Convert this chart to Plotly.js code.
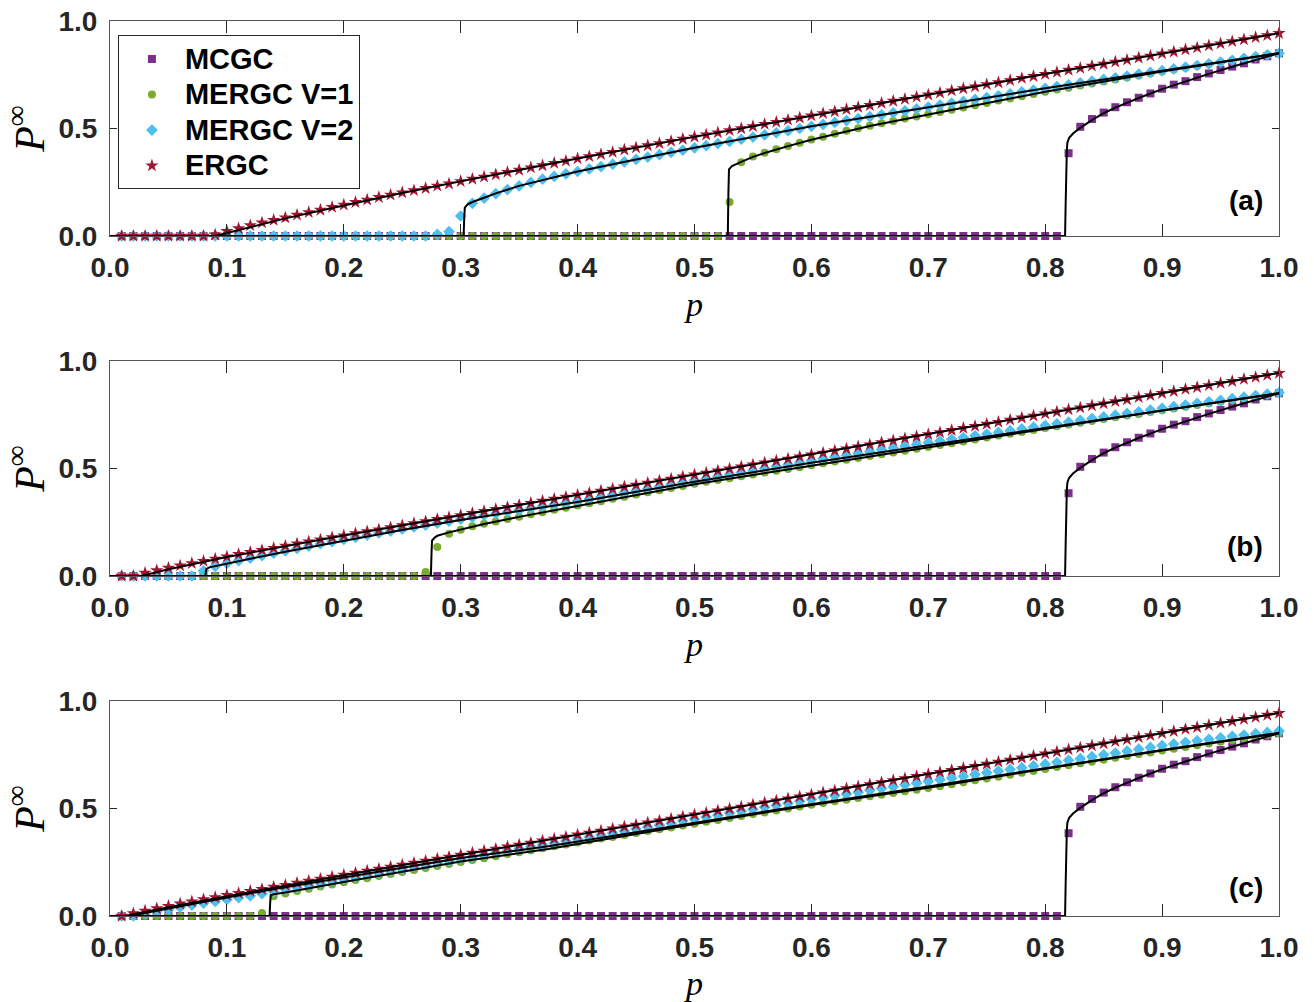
<!DOCTYPE html>
<html><head><meta charset="utf-8">
<script src="https://cdn.plot.ly/plotly-3.0.1.min.js"></script>
<style>html,body{margin:0;padding:0;background:#fff}#chart{width:1314px;height:1002px}</style>
</head><body><div id="chart"></div>
<script>
// occupation probability p
const p = [
0.01,0.02,0.03,0.04,0.05,0.06,0.07,0.08,0.09,0.10,
0.11,0.12,0.13,0.14,0.15,0.16,0.17,0.18,0.19,0.20,
0.21,0.22,0.23,0.24,0.25,0.26,0.27,0.28,0.29,0.30,
0.31,0.32,0.33,0.34,0.35,0.36,0.37,0.38,0.39,0.40,
0.41,0.42,0.43,0.44,0.45,0.46,0.47,0.48,0.49,0.50,
0.51,0.52,0.53,0.54,0.55,0.56,0.57,0.58,0.59,0.60,
0.61,0.62,0.63,0.64,0.65,0.66,0.67,0.68,0.69,0.70,
0.71,0.72,0.73,0.74,0.75,0.76,0.77,0.78,0.79,0.80,
0.81,0.82,0.83,0.84,0.85,0.86,0.87,0.88,0.89,0.90,
0.91,0.92,0.93,0.94,0.95,0.96,0.97,0.98,0.99,1.00];

// MCGC simulation (same in all panels)
const mcgc = [
0,0,0,0,0,0,0,0,0,0,
0,0,0,0,0,0,0,0,0,0,
0,0,0,0,0,0,0,0,0,0,
0,0,0,0,0,0,0,0,0,0,
0,0,0,0,0,0,0,0,0,0,
0,0,0,0,0,0,0,0,0,0,
0,0,0,0,0,0,0,0,0,0,
0,0,0,0,0,0,0,0,0,0,
0,0.385,0.508,0.544,0.574,0.599,0.622,0.643,0.663,0.685,
0.704,0.720,0.739,0.756,0.772,0.788,0.803,0.821,0.836,0.850];

// panel (a)
const v1A = [
0,0,0,0,0,0,0,0,0,0,
0,0,0,0,0,0,0,0,0,0,
0,0,0,0,0,0,0,0,0,0,
0,0,0,0,0,0,0,0,0,0,
0,0,0,0,0,0,0,0,0,0,
0,0,0.158,0.343,0.370,0.387,0.403,0.419,0.434,0.449,
0.462,0.476,0.489,0.501,0.513,0.524,0.535,0.546,0.556,0.566,
0.577,0.587,0.598,0.608,0.619,0.630,0.640,0.650,0.661,0.671,
0.681,0.690,0.700,0.709,0.719,0.728,0.737,0.747,0.756,0.765,
0.774,0.783,0.791,0.800,0.808,0.817,0.825,0.834,0.842,0.850];
const v2A = [
0,0,0,0,0,0,0,0,0,0,
0,0,0,0,0,0,0,0,0,0,
0,0,0,0,0,0,0,0.007,0.020,0.093,
0.152,0.176,0.197,0.216,0.233,0.249,0.264,0.277,0.289,0.300,
0.312,0.323,0.334,0.345,0.356,0.367,0.378,0.389,0.399,0.410,
0.420,0.430,0.440,0.450,0.460,0.470,0.480,0.490,0.500,0.510,
0.519,0.528,0.537,0.546,0.555,0.564,0.573,0.582,0.591,0.600,
0.609,0.618,0.626,0.635,0.644,0.652,0.661,0.670,0.678,0.687,
0.695,0.703,0.712,0.720,0.728,0.736,0.744,0.753,0.761,0.769,
0.777,0.785,0.793,0.801,0.809,0.817,0.826,0.834,0.842,0.850];
const ergA = [
0,0,0,0,0,0,0,0,0.006,0.022,
0.035,0.049,0.062,0.074,0.085,0.098,0.110,0.121,0.134,0.145,
0.157,0.168,0.180,0.191,0.202,0.212,0.222,0.233,0.243,0.254,
0.265,0.275,0.286,0.297,0.307,0.318,0.328,0.339,0.349,0.360,
0.370,0.380,0.390,0.401,0.411,0.421,0.431,0.441,0.451,0.461,
0.471,0.481,0.491,0.500,0.510,0.520,0.530,0.540,0.550,0.560,
0.570,0.579,0.589,0.599,0.608,0.618,0.628,0.637,0.647,0.657,
0.666,0.676,0.686,0.695,0.705,0.714,0.724,0.734,0.743,0.753,
0.762,0.772,0.781,0.791,0.800,0.810,0.819,0.829,0.838,0.848,
0.857,0.867,0.876,0.886,0.895,0.905,0.914,0.924,0.933,0.943];

// panel (b)
const v1B = [
0,0,0,0,0,0,0,0,0,0,
0,0,0,0,0,0,0,0,0,0,
0,0,0,0,0,0,0.019,0.135,0.197,0.215,
0.231,0.243,0.254,0.265,0.276,0.287,0.297,0.308,0.318,0.328,
0.338,0.348,0.359,0.369,0.379,0.389,0.399,0.409,0.419,0.429,
0.438,0.447,0.455,0.464,0.472,0.481,0.489,0.498,0.506,0.515,
0.524,0.532,0.541,0.549,0.558,0.566,0.575,0.583,0.592,0.600,
0.609,0.618,0.626,0.635,0.644,0.653,0.662,0.670,0.679,0.688,
0.696,0.705,0.713,0.721,0.730,0.738,0.746,0.754,0.763,0.771,
0.779,0.787,0.795,0.803,0.811,0.818,0.826,0.834,0.842,0.850];
const v2B = [
0,0,0,0,0,0,0,0.024,0.045,0.058,
0.071,0.083,0.095,0.106,0.117,0.128,0.139,0.150,0.160,0.170,
0.180,0.190,0.200,0.209,0.219,0.228,0.237,0.246,0.255,0.264,
0.273,0.282,0.290,0.299,0.307,0.316,0.324,0.332,0.340,0.348,
0.358,0.368,0.377,0.387,0.397,0.406,0.416,0.426,0.435,0.445,
0.454,0.463,0.472,0.481,0.490,0.500,0.509,0.518,0.527,0.536,
0.545,0.553,0.561,0.570,0.578,0.587,0.595,0.603,0.612,0.620,
0.628,0.636,0.644,0.652,0.660,0.668,0.676,0.684,0.692,0.700,
0.708,0.716,0.724,0.732,0.740,0.748,0.756,0.764,0.772,0.780,
0.788,0.795,0.803,0.810,0.817,0.825,0.832,0.839,0.846,0.853];
const ergB = [
0,0,0.014,0.026,0.037,0.048,0.059,0.069,0.080,0.090,
0.101,0.111,0.120,0.130,0.140,0.150,0.160,0.169,0.179,0.188,
0.198,0.207,0.216,0.226,0.235,0.245,0.254,0.264,0.273,0.282,
0.292,0.301,0.311,0.320,0.330,0.339,0.349,0.358,0.368,0.377,
0.386,0.396,0.405,0.415,0.424,0.433,0.443,0.452,0.462,0.471,
0.480,0.490,0.499,0.508,0.518,0.527,0.536,0.545,0.555,0.564,
0.573,0.583,0.592,0.602,0.611,0.621,0.630,0.640,0.649,0.659,
0.668,0.678,0.688,0.697,0.707,0.716,0.726,0.736,0.745,0.755,
0.764,0.774,0.783,0.793,0.802,0.812,0.821,0.831,0.840,0.850,
0.859,0.869,0.878,0.887,0.897,0.906,0.916,0.925,0.934,0.944];

// panel (c)
const v1C = [
0,0,0,0,0,0,0,0,0,0,
0,0,0.014,0.092,0.105,0.116,0.127,0.137,0.147,0.157,
0.167,0.176,0.186,0.195,0.205,0.214,0.223,0.233,0.242,0.251,
0.260,0.269,0.278,0.288,0.297,0.306,0.315,0.324,0.333,0.342,
0.351,0.360,0.368,0.377,0.386,0.395,0.403,0.412,0.421,0.429,
0.438,0.447,0.456,0.465,0.474,0.482,0.491,0.500,0.509,0.518,
0.526,0.534,0.541,0.549,0.557,0.564,0.572,0.580,0.587,0.595,
0.604,0.613,0.622,0.631,0.640,0.648,0.657,0.666,0.675,0.684,
0.693,0.701,0.710,0.718,0.727,0.736,0.744,0.753,0.761,0.770,
0.778,0.786,0.794,0.802,0.810,0.818,0.826,0.834,0.842,0.850];
const v2C = [
0,0,0.012,0.020,0.030,0.041,0.051,0.060,0.068,0.077,
0.085,0.094,0.104,0.113,0.124,0.133,0.142,0.152,0.162,0.172,
0.181,0.191,0.200,0.210,0.219,0.229,0.238,0.248,0.257,0.267,
0.276,0.285,0.295,0.304,0.313,0.322,0.331,0.340,0.349,0.358,
0.367,0.377,0.386,0.395,0.405,0.414,0.423,0.432,0.442,0.451,
0.460,0.469,0.479,0.488,0.497,0.506,0.515,0.525,0.534,0.543,
0.551,0.560,0.568,0.576,0.585,0.593,0.601,0.610,0.618,0.626,
0.634,0.642,0.650,0.658,0.666,0.674,0.682,0.690,0.698,0.706,
0.715,0.724,0.732,0.741,0.750,0.758,0.767,0.776,0.784,0.793,
0.800,0.808,0.815,0.822,0.829,0.836,0.842,0.848,0.854,0.860];
const ergC = [
0,0.012,0.024,0.035,0.046,0.057,0.067,0.077,0.087,0.097,
0.106,0.116,0.125,0.135,0.144,0.154,0.163,0.172,0.182,0.191,
0.200,0.210,0.219,0.228,0.238,0.247,0.256,0.266,0.275,0.284,
0.294,0.303,0.312,0.322,0.331,0.340,0.350,0.359,0.368,0.378,
0.387,0.396,0.406,0.415,0.424,0.434,0.443,0.452,0.462,0.471,
0.480,0.490,0.499,0.508,0.518,0.527,0.536,0.546,0.555,0.564,
0.574,0.583,0.593,0.602,0.612,0.621,0.631,0.640,0.650,0.659,
0.669,0.678,0.688,0.697,0.707,0.717,0.726,0.736,0.745,0.755,
0.764,0.774,0.783,0.793,0.802,0.812,0.821,0.831,0.840,0.850,
0.859,0.869,0.878,0.888,0.897,0.906,0.916,0.925,0.935,0.944];

// theory curves (black lines)
const thMcgcP = [0,0.817,0.8175,0.818,0.8185,0.819,0.8205,0.824,0.83,0.84,0.85,0.86,0.88,0.90,0.92,0.94,0.96,0.98,1.0];
const thMcgcV = [0,0,0.15,0.32,0.40,0.435,0.457,0.478,0.503,0.539,0.571,0.597,0.642,0.683,0.719,0.754,0.787,0.819,0.85];

const thErgAP = [0,0.09,0.1,0.11,0.12,0.15,0.2,0.25,0.3,0.4,0.5,0.6,0.7,0.8,0.9,1.0];
const thErgAV = [0,0,0.014,0.028,0.042,0.082,0.142,0.200,0.254,0.360,0.461,0.560,0.657,0.753,0.848,0.943];
const thV2AP = [0,0.3025,0.303,0.3035,0.306,0.31,0.32,0.33,0.35,0.4,0.45,0.5,0.6,0.7,0.8,0.9,1.0];
const thV2AV = [0,0,0.08,0.132,0.147,0.158,0.178,0.198,0.233,0.300,0.356,0.410,0.510,0.600,0.687,0.769,0.850];
const thV1AP = [0,0.5285,0.529,0.5295,0.532,0.535,0.54,0.55,0.56,0.58,0.6,0.65,0.7,0.8,0.9,1.0];
const thV1AV = [0,0,0.2,0.31,0.325,0.334,0.345,0.368,0.386,0.418,0.448,0.512,0.566,0.671,0.765,0.85];

const thErgBP = [0,0.026,0.03,0.05,0.1,0.15,0.2,0.3,0.4,0.5,0.6,0.7,0.8,0.9,1.0];
const thErgBV = [0,0,0.005,0.031,0.088,0.139,0.188,0.283,0.377,0.471,0.564,0.659,0.755,0.850,0.944];
const thV2BP = [0,0.0815,0.082,0.0825,0.085,0.09,0.1,0.12,0.15,0.2,0.25,0.3,0.35,0.4,0.5,0.6,0.7,0.8,0.9,1.0];
const thV2BV = [0,0,0.02,0.033,0.04,0.046,0.057,0.080,0.113,0.165,0.214,0.260,0.303,0.344,0.438,0.527,0.608,0.689,0.771,0.850];
const thV1BP = [0,0.2745,0.275,0.2755,0.278,0.28,0.29,0.3,0.32,0.35,0.4,0.5,0.6,0.7,0.8,0.9,1.0];
const thV1BV = [0,0,0.1,0.165,0.18,0.187,0.203,0.217,0.242,0.275,0.326,0.427,0.513,0.598,0.686,0.770,0.850];

const thErgCP = [0,0.013,0.02,0.05,0.1,0.15,0.2,0.3,0.4,0.5,0.6,0.7,0.8,0.9,1.0];
const thErgCV = [0,0,0.008,0.041,0.092,0.141,0.190,0.284,0.378,0.471,0.564,0.659,0.755,0.850,0.944];
const thV2CP = [0,0.016,0.02,0.05,0.1,0.137,0.2,0.3,0.375,0.5,0.6,0.7,0.8,0.9,1.0];
const thV2CV = [0,0,0.004,0.036,0.086,0.122,0.180,0.270,0.324,0.432,0.520,0.602,0.688,0.772,0.852];
const thV1CP = [0,0.1365,0.137,0.1375,0.14,0.15,0.2,0.3,0.375,0.5,0.6,0.7,0.8,0.9,1.0];
const thV1CV = [0,0,0.06,0.097,0.101,0.109,0.158,0.253,0.312,0.428,0.516,0.597,0.685,0.770,0.850];

const seriesNames = ['MCGC','MERGC V=1','MERGC V=2','ERGC'];
const panelLabels = ['(a)','(b)','(c)'];
const xTicks = [0,0.1,0.2,0.3,0.4,0.5,0.6,0.7,0.8,0.9,1.0];
const yTicks = [0,0.5,1.0];

const COL = ['#7E2F8E','#77AC30','#4DBEEE','#A2142F'];
const SYM = ['square','circle','diamond','star'];
const SIZE = [8,8,9,10];

const panels = [
  {xa:'x', ya:'y', data:[mcgc,v1A,v2A,ergA], th:[[thMcgcP,thMcgcV],[thV1AP,thV1AV],[thV2AP,thV2AV],[thErgAP,thErgAV]]},
  {xa:'x2', ya:'y2', data:[mcgc,v1B,v2B,ergB], th:[[thMcgcP,thMcgcV],[thV1BP,thV1BV],[thV2BP,thV2BV],[thErgBP,thErgBV]]},
  {xa:'x3', ya:'y3', data:[mcgc,v1C,v2C,ergC], th:[[thMcgcP,thMcgcV],[thV1CP,thV1CV],[thV2CP,thV2CV],[thErgCP,thErgCV]]}
];

const traces = [];
panels.forEach((pn, k) => {
  pn.data.forEach((ys, i) => {
    traces.push({
      type:'scatter', mode:'markers', x:p, y:ys, xaxis:pn.xa, yaxis:pn.ya,
      name: '<span style="font-size:29px">' + seriesNames[i] + '</span>',
      legendgroup: seriesNames[i], showlegend: k===0,
      cliponaxis:false,
      marker:{symbol:SYM[i], size:SIZE[i], color:COL[i], line:{width:0}}
    });
  });
  pn.th.forEach((t) => {
    traces.push({
      type:'scatter', mode:'lines', x:t[0], y:t[1], xaxis:pn.xa, yaxis:pn.ya,
      showlegend:false, cliponaxis:false, hoverinfo:'skip',
      line:{color:'#000', width:2}
    });
  });
});

const tickFont = {family:'Liberation Sans, Arial, Helvetica, sans-serif', size:28, color:'#262626', weight:'bold'};
function xAxis(anchor){
  return {domain:[0,1], anchor:anchor, range:[0,1], tickvals:xTicks, tickformat:'.1f',
    ticks:'inside', ticklen:12, tickwidth:1, tickcolor:'#262626',
    showline:true, mirror:'ticks', linecolor:'#555', linewidth:1,
    showgrid:false, zeroline:false, tickfont:tickFont, ticklabelstandoff:6,
    title:{text:'<i>p</i>', font:{family:'Liberation Serif, DejaVu Serif, serif', size:34, color:'#000'}, standoff:10}};
}
function yAxis(anchor, dom){
  return {domain:dom, anchor:anchor, range:[0,1], tickvals:yTicks, tickformat:'.1f',
    ticks:'inside', ticklen:7, tickwidth:1, tickcolor:'#262626',
    showline:true, mirror:'ticks', linecolor:'#555', linewidth:1,
    showgrid:false, zeroline:false, tickfont:tickFont, ticklabelstandoff:6,
    title:{text:'<i>P</i><sup>∞</sup>', font:{family:'Liberation Serif, DejaVu Serif, serif', size:42, color:'#000'}, standoff:8}};
}

const labelY = [0.167, 0.136, 0.132];
const annotations = panelLabels.map((t,k) => ({
  text:'<b>'+t+'</b>', xref: k===0?'x':'x'+(k+1), yref: k===0?'y':'y'+(k+1),
  x:0.988, y:labelY[k], xanchor:'right', yanchor:'middle', showarrow:false,
  font:{family:'Liberation Sans, Arial, sans-serif', size:28, color:'#000'}
}));

const layout = {
  width:1314, height:1002,
  margin:{l:110, r:35, t:21, b:86},
  paper_bgcolor:'#fff', plot_bgcolor:'#fff',
  showlegend:true,
  legend:{x:0.0068, y:0.984, xanchor:'left', yanchor:'top', bgcolor:'#fff',
    bordercolor:'#262626', borderwidth:1, itemwidth:56, tracegroupgap:0, valign:'middle',
    font:{family:'Liberation Sans, Arial, sans-serif', size:25, color:'#000', weight:'bold'}},
  xaxis: xAxis('y'), yaxis: yAxis('x',[0.7598,1]),
  xaxis2: xAxis('y2'), yaxis2: yAxis('x2',[0.3799,0.6201]),
  xaxis3: xAxis('y3'), yaxis3: yAxis('x3',[0,0.2402]),
  annotations: annotations
};

Plotly.newPlot('chart', traces, layout, {displayModeBar:false, staticPlot:true});
</script>
</body></html>
